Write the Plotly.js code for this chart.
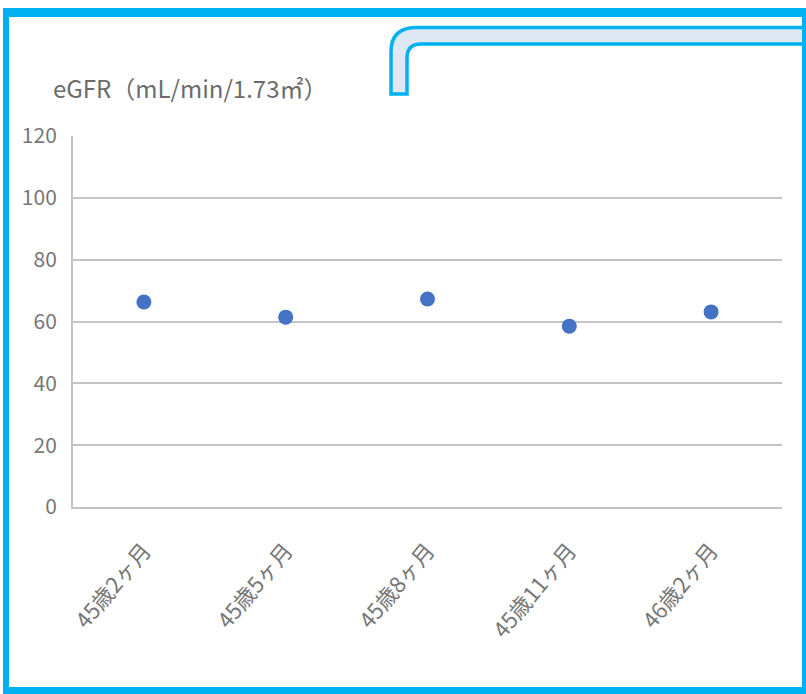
<!DOCTYPE html>
<html>
<head>
<meta charset="utf-8">
<script src="https://cdn.plot.ly/plotly-3.0.1.min.js"></script>
<style>html,body{margin:0;padding:0;background:#fff;}#chart{width:806px;height:694px;}</style>
</head>
<body>
<div id="chart"></div>
<script>
const categories = ["45歳2ヶ月", "45歳5ヶ月", "45歳8ヶ月", "45歳11ヶ月", "46歳2ヶ月"];
const egfrValues = [66.3, 61.4, 67.3, 58.5, 63.1];
const yTickValues = [0, 20, 40, 60, 80, 100, 120];
const chartTitle = "eGFR（mL/min/1.73㎡）";

const W = 806, H = 694;
const M = {l: 73, r: 24, t: 136, b: 187};
const PW = W - M.l - M.r, PH = H - M.t - M.b;
const px = x => (x - M.l) / PW;
const py = y => (H - M.b - y) / PH;
const BLUE = "#00b0f0";

function rect(x0, y0, x1, y1) {
  return {type: "rect", xref: "paper", yref: "paper", x0: px(x0), x1: px(x1), y0: py(y1), y1: py(y0),
          fillcolor: BLUE, line: {width: 0}, layer: "above"};
}
function pathStr(pts) {
  return pts.map(s => s[0] + " " + s.slice(1).map((v, i) => (i % 2 === 0 ? px(v) : py(v)).toFixed(5)).join(",")).join(" ");
}
const tabPath = pathStr([
  ["M", 391, 94], ["L", 391, 52], ["Q", 391, 27.5, 416, 27.5], ["L", 815, 27.5],
  ["L", 815, 44], ["L", 421, 44], ["Q", 407, 44, 407, 58], ["L", 407, 94], ["Z"]
]);

const shapes = [
  {type: "path", xref: "paper", yref: "paper", path: tabPath, fillcolor: "#dde8f4",
   line: {color: BLUE, width: 3.5}, layer: "above"},
  rect(3, 8, 806, 17),
  rect(3, 8, 9, 694),
  rect(3, 687, 806, 694),
  rect(802, 8, 806, 694)
];

const trace = {
  type: "scatter", mode: "markers",
  x: categories, y: egfrValues,
  marker: {color: "#4472c4", size: 15},
  hoverinfo: "x+y", cliponaxis: false
};

const layout = {
  width: W, height: H,
  margin: M,
  paper_bgcolor: "#ffffff", plot_bgcolor: "#ffffff",
  showlegend: false,
  font: {family: "'Noto Sans CJK JP', 'Noto Sans', sans-serif", color: "#6b6b6b"},
  title: {text: chartTitle, x: 53 / W, xref: "container", xanchor: "left",
          y: 1 - 90 / H, yref: "container", yanchor: "middle",
          font: {size: 24, color: "#6b6b6b", family: "'Noto Sans CJK JP', sans-serif"}},
  xaxis: {type: "category", range: [-0.5, 4.5], showgrid: false, zeroline: false,
          showline: true, linecolor: "#c4c4c4", linewidth: 2, ticks: "", tickangle: -50,
          ticklabelstandoff: 20,
          tickfont: {size: 22, color: "#777777"}, automargin: false},
  yaxis: {range: [0, 120], tickvals: yTickValues, ticktext: yTickValues.map(String),
          showgrid: true, gridcolor: "#c4c4c4", gridwidth: 2, zeroline: false,
          showline: true, linecolor: "#c4c4c4", linewidth: 2, ticks: "",
          ticklabelstandoff: 10,
          tickfont: {size: 21, color: "#777777"}, automargin: false},
  shapes: shapes
};

Plotly.newPlot("chart", [trace], layout, {displayModeBar: false, staticPlot: true});
</script>
</body>
</html>
